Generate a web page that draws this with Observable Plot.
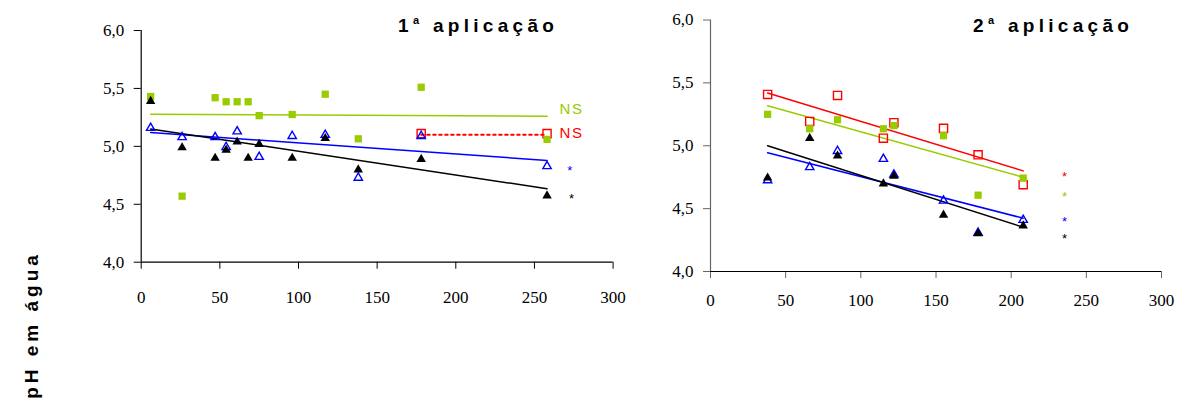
<!DOCTYPE html>
<html><head><meta charset="utf-8">
<script src="https://cdn.jsdelivr.net/npm/d3@7"></script>
<script src="https://cdn.jsdelivr.net/npm/@observablehq/plot@0.6"></script>
<style>
body{margin:0;background:#fff;}
#wrap{position:relative;width:1182px;height:403px;overflow:hidden;background:#fff;}
#wrap svg{position:absolute;top:0;}
.tk text{font-family:"Liberation Serif",serif !important;font-size:17px !important;}
</style></head><body><div id="wrap"></div>
<script>
// ---- shared axes ----
const xTicks = [0, 50, 100, 150, 200, 250, 300];
const yTicks = [4.0, 4.5, 5.0, 5.5, 6.0];
const fmtY = d => d.toFixed(1).replace(".", ",");

// ---- 1ª aplicação ----
const dose1 = [6, 26, 47, 54, 61, 68, 75, 96, 117, 138, 178, 258];
const green1 = [5.43, 4.57, 5.42, 5.385, 5.385, 5.385, 5.265, 5.275, 5.45, 5.065, 5.51, 5.06];
const black1 = [5.40, 5.00, 4.91, 4.98, 5.05, 4.91, 5.03, 4.91, 5.08, 4.81, 4.90, 4.585];
const blueDose1 = [6, 26, 47, 54, 61, 75, 96, 117, 138, 178, 258];
const blue1 = [5.17, 5.09, 5.09, 5.005, 5.14, 4.92, 5.10, 5.11, 4.74, 5.10, 4.84];
const redDose1 = [178, 258];
const red1 = [5.11, 5.11];
// trend lines (start/end)
const trend1Series = ["green", "blue", "black"];
const trend1X = [[6, 258], [6, 258], [6, 258]];
const trend1Y = [[5.278, 5.26], [5.12, 4.878], [5.15, 4.634]];
const trend1DotX = [178, 258];
const trend1DotY = [5.10, 5.10];
// significance labels
const sig1Series = ["green", "red", "blue", "black"];
const sig1Text = ["NS", "NS", "*", "*"];
const sig1X = [266, 266, 273, 274];
const sig1Y = [5.325, 5.11, 4.82, 4.575];

// ---- 2ª aplicação ----
const dose2 = [38, 66, 84.5, 115, 122, 155, 178, 208];
const red2 = [5.408, 5.193, 5.40, 5.06, 5.183, 5.138, 4.928, 4.69];
const green2 = [5.25, 5.135, 5.207, 5.135, 5.16, 5.08, 4.607, 4.743];
const blue2 = [4.735, 4.84, 4.968, 4.905, 4.78, 4.573, 4.318, 4.42];
const black2 = [4.755, 5.07, 4.93, 4.708, 4.77, 4.46, 4.313, 4.374];
const trend2Series = ["red", "green", "blue", "black"];
const trend2X = [[38, 208], [38, 208], [38, 208], [38, 208]];
const trend2Y = [[5.42, 4.80], [5.318, 4.75], [4.944, 4.424], [5.00, 4.352]];
const sig2Series = ["red", "green", "blue", "black"];
const sig2Text = ["*", "*", "*", "*"];
const sig2X = [236, 236, 236, 236];
const sig2Y = [4.777, 4.618, 4.424, 4.29];

const colors = {green: "#99CC00", blue: "#0000FF", black: "#000000", red: "#FF0000"};
const serif = "Liberation Serif";
const pts = (xs, ys) => xs.map((x, i) => ({x, y: ys[i]}));

function markers(series, data) {
  if (series === "green") return Plot.dot(data, {x: "x", y: "y", symbol: "square", r: 4.1, fill: colors.green, stroke: "none"});
  if (series === "red") return Plot.dot(data, {x: "x", y: "y", symbol: "square", r: 4.6, fill: "none", stroke: colors.red, strokeWidth: 1.4});
  if (series === "blue") return Plot.dot(data, {x: "x", y: "y", symbol: "triangle", r: 3.1, dy: 1.3, fill: "none", stroke: colors.blue, strokeWidth: 1.4});
  return Plot.dot(data, {x: "x", y: "y", symbol: "triangle", r: 3.5, dy: 1.3, fill: colors.black, stroke: "none"});
}

function panel(o) {
  const marks = [
    Plot.axisY(yTicks, {tickSize: 7, tickPadding: 10, tickFormat: fmtY, label: null, stroke: o.yColor, fill: "#000",
      fontSize: 17, fontFamily: serif}),
    Plot.axisX(xTicks, {tickSize: 7, tickPadding: o.xPad, tickFormat: d => String(d), label: null, stroke: o.xTickColor, fill: "#000",
      fontSize: 17, fontFamily: serif}),
    Plot.ruleX([0], {stroke: o.yColor, strokeWidth: 1.2}),
    Plot.ruleY([4], {stroke: "#000", strokeWidth: 1.2})
  ];
  o.trendSeries.forEach((s, i) => {
    marks.push(Plot.line(pts(o.trendX[i], o.trendY[i]), {x: "x", y: "y", stroke: colors[s], strokeWidth: 1.5}));
  });
  if (o.dotX) marks.push(Plot.line(pts(o.dotX, o.dotY), {x: "x", y: "y", stroke: colors.red, strokeWidth: 2, strokeDasharray: "2.5,3.5"}));
  o.series.forEach(([s, xs, ys]) => marks.push(markers(s, pts(xs, ys))));
  o.sigSeries.forEach((s, i) => {
    const isStar = o.sigText[i] === "*";
    marks.push(Plot.text([{x: o.sigX[i], y: o.sigY[i], t: o.sigText[i]}], {
      x: "x", y: "y", text: "t", fill: colors[s],
      fontFamily: "Liberation Sans",
      fontSize: isStar ? 13 : 15, textAnchor: isStar ? "middle" : "start", dy: isStar ? 3.3 : 0
    }));
  });
  const svg = Plot.plot({
    width: o.width, height: 310,
    marginLeft: o.ml, marginRight: o.mr, marginTop: o.mt, marginBottom: o.mb,
    x: {domain: [0, 300]}, y: {domain: [4, 6]},
    style: {background: "transparent", overflow: "visible"},
    marks
  });
  svg.style.left = o.left + "px";
  svg.style.position = "absolute";
  svg.style.top = "0px";
  svg.setAttribute("font-family", serif);
  svg.setAttribute("font-size", 17);
  d3.select(svg).selectAll("g[aria-label=text] text").attr("letter-spacing", 1.5);
  d3.select(svg).selectAll("g[aria-label$='tick label']").classed("tk", true);
  return svg;
}

const wrap = document.getElementById("wrap");
wrap.appendChild(panel({
  left: 0, width: 640, ml: 140.7, mr: 27.4, mt: 30, mb: 48.3, xPad: 21.8,
  yColor: "#000", xTickColor: "#000",
  trendSeries: trend1Series, trendX: trend1X, trendY: trend1Y,
  dotX: trend1DotX, dotY: trend1DotY,
  series: [["red", redDose1, red1], ["green", dose1, green1], ["blue", blueDose1, blue1], ["black", dose1, black1]],
  sigSeries: sig1Series, sigText: sig1Text, sigX: sig1X, sigY: sig1Y
}));
wrap.appendChild(panel({
  left: 640, width: 542, ml: 70, mr: 21, mt: 19.5, mb: 39, xPad: 15.5,
  yColor: "#666", xTickColor: "#666",
  trendSeries: trend2Series, trendX: trend2X, trendY: trend2Y,
  series: [["red", dose2, red2], ["green", dose2, green2], ["blue", dose2, blue2], ["black", dose2, black2]],
  sigSeries: sig2Series, sigText: sig2Text, sigX: sig2X, sigY: sig2Y
}));

// titles and shared y label
const ov = d3.select(wrap).append("svg").attr("width", 1182).attr("height", 403)
  .style("left", "0px").style("pointer-events", "none")
  .attr("font-family", "Liberation Sans").attr("font-weight", "bold");
const titles = [{n: "1", x: 398}, {n: "2", x: 973}];
titles.forEach(t => {
  const tx = ov.append("text").attr("x", t.x).attr("y", 32).attr("font-size", 19).attr("letter-spacing", 4.3);
  tx.append("tspan").text(t.n);
  tx.append("tspan").attr("font-size", 11).attr("dy", -8).text("a");
  tx.append("tspan").attr("dy", 8).text(" aplicação");
});
ov.append("text").attr("transform", "translate(38,325) rotate(-90)").attr("text-anchor", "middle")
  .attr("font-size", 19).attr("letter-spacing", 4).text("pH em água");
</script></body></html>
